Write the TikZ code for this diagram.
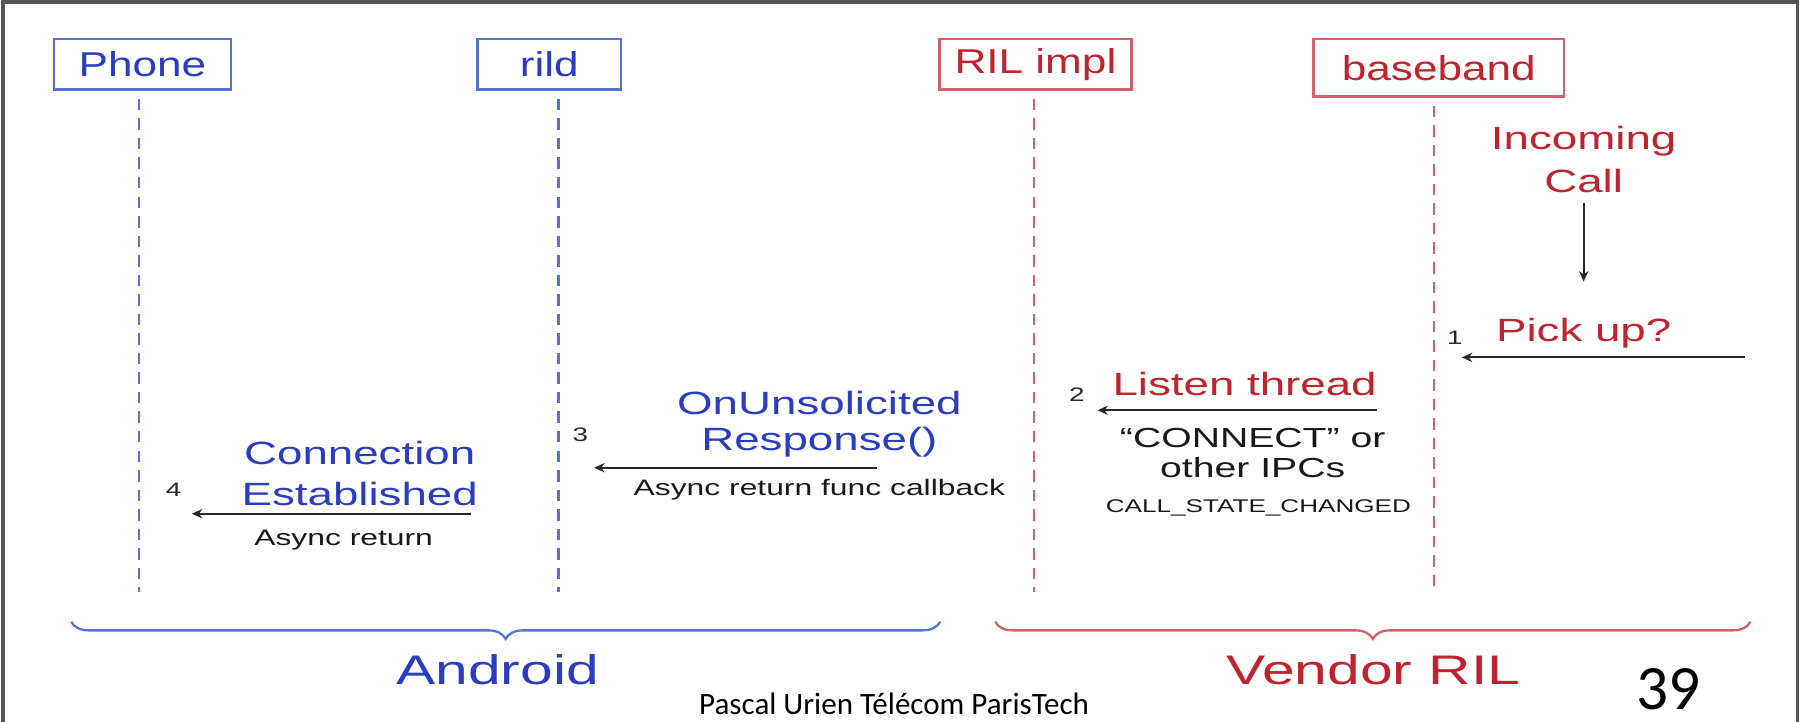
\documentclass[tikz,border=0pt]{standalone}
\usepackage{fontspec}
\usepackage{graphicx}
\setmainfont{Liberation Sans}
\newfontfamily\calibrifont{Carlito}
\usetikzlibrary{arrows.meta,decorations.pathreplacing}
\definecolor{ablue}{HTML}{2A3CC0}
\definecolor{abluel}{HTML}{5573D6}
\definecolor{vred}{HTML}{C0232D}
\definecolor{vredl}{HTML}{DA5E68}
\definecolor{framegray}{HTML}{555555}
\newcommand\W[1]{\scalebox{1.42}[1]{#1}}
\newcommand\Bx[1]{\scalebox{1.28}[1]{#1}}
\begin{document}
\begin{tikzpicture}[x=1pt,y=-1pt,
  fs/.style 2 args={font=\fontsize{#1}{#2}\selectfont},
  actorblue/.style={draw=abluel,line width=2pt,text=ablue,inner sep=0pt,minimum height=44,fs={30}{32}},
  actorred/.style={draw=vredl,line width=2pt,text=vred,inner sep=0pt,minimum height=44,fs={30}{32}},
  lifeblue/.style={draw=abluel,line width=2pt,dash pattern=on 10pt off 7pt},
  lifered/.style={draw=vredl,line width=2pt,dash pattern=on 10pt off 7pt},
  msg/.style={draw=black!85,line width=1.8pt,-{Stealth[length=9pt,width=8pt]}},
  bluelbl/.style={text=ablue,fs={28}{35},align=center,inner sep=0pt},
  redlbl/.style={text=vred,fs={28}{35},align=center,inner sep=0pt},
  small/.style 2 args={text=black!90,fs={#1}{#2},align=center,inner sep=0pt},
  num/.style={text=black!85,fs={17}{17},inner sep=0pt},
  bracestyle/.style={decorate,decoration={brace,mirror,amplitude=15pt},line width=2pt}
]
\useasboundingbox (0,0) rectangle (1568,627.4);
\draw[framegray,line width=3pt] (2.6,1.8) rectangle (1564,700);

% actors
\node[actorblue,minimum width=154] (phone) at (124,56) {\Bx{Phone}};
\node[actorblue,minimum width=125] (rild) at (478,56) {\Bx{rild}};
\node[actorred,minimum width=167] (rilimpl) at (901,56) {\Bx{RIL impl}};
\node[actorred,minimum width=218,minimum height=50] (baseband) at (1252,59) {\Bx{baseband}};

% lifeline ends
\coordinate (phoneE) at (121,515);
\coordinate (rildE) at (486,515);
\coordinate (rilE) at (900,515);
\coordinate (bbE) at (1248,515);
\draw[lifeblue] (phoneE |- 0,86) -- (phoneE);
\draw[lifeblue] (rildE |- 0,86) -- (rildE);
\draw[lifered] (rilE |- 0,86) -- (rilE);
\draw[lifered] (bbE |- 0,92) -- (bbE);

% incoming call
\node[redlbl,fs={28}{37}] (incoming) at (1378,139) {\W{Incoming}\\\W{Call}};
\coordinate (inA) at (1378,177);
\coordinate (inB) at (1378,245);
\draw[msg,line width=1.5pt] (inA) -- (inB);

% step 1
\node[redlbl] (pickup) at (1378,290) {\W{Pick up?}};
\node[num] (n1) at (1266,294) {\W{1}};
\coordinate (m1a) at (1518,311);
\coordinate (m1b) at (1272,311);
\draw[msg] (m1a) -- (m1b);

% step 2
\node[redlbl] (listen) at (1083,334) {\W{Listen thread}};
\node[num] (n2) at (937,343) {\W{2}};
\coordinate (m2a) at (1198,357);
\coordinate (m2b) at (955,357);
\draw[msg] (m2a) -- (m2b);
\node[small={24}{26.5}] (connect) at (1090,394) {\W{“CONNECT” or}\\\W{other IPCs}};
\node[small={16}{16}] (csc) at (1095,442) {\W{CALL\_STATE\_CHANGED}};

% step 3
\node[bluelbl,fs={28}{32}] (onuns) at (713,369) {\W{OnUnsolicited}\\\W{Response()}};
\node[num] (n3) at (505,378) {\W{3}};
\coordinate (m3a) at (763,407);
\coordinate (m3b) at (517,407);
\draw[msg] (m3a) -- (m3b);
\node[small={19.5}{20}] (cb) at (713,426) {\W{Async return func callback}};

% step 4
\node[bluelbl] (conn) at (313,412) {\W{Connection}\\\W{Established}};
\node[num] (n4) at (151,426) {\W{4}};
\coordinate (m4a) at (410,447);
\coordinate (m4b) at (167,447);
\draw[msg] (m4a) -- (m4b);
\node[small={19.5}{20}] (ar) at (299,470) {\W{Async return}};

% braces
\coordinate (bA1) at (62,541);
\coordinate (bA2) at (818,541);
\coordinate (bV1) at (866,541);
\coordinate (bV2) at (1523,541);
\draw[bracestyle,abluel] (bA1) -- (bA2);
\draw[bracestyle,vredl] (bV1) -- (bV2);
\node[text=ablue,fs={36}{36},inner sep=0pt] (android) at (433,583) {\W{Android}};
\node[text=vred,fs={36}{36},inner sep=0pt] (vendor) at (1195,583) {\W{Vendor RIL}};

% footer
\node[inner sep=0pt,font=\calibrifont\fontsize{27}{27}\selectfont] (author) at (778,612) {Pascal Urien Télécom ParisTech};
\node[inner sep=0pt,font=\calibrifont\fontsize{55}{55}\selectfont] (page) at (1452,600) {39};
\end{tikzpicture}
\end{document}
